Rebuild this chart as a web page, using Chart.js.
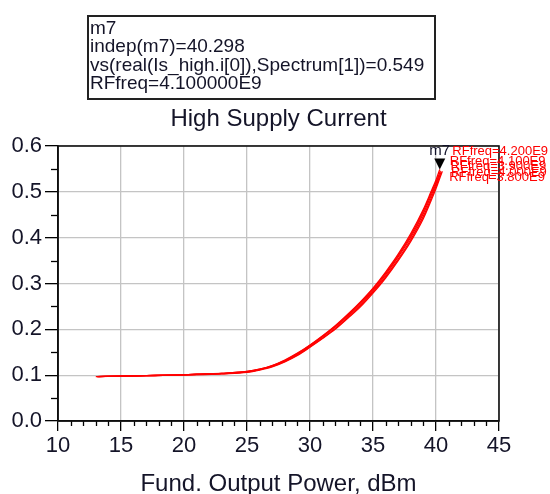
<!DOCTYPE html>
<html>
<head>
<meta charset="utf-8">
<script src="https://cdn.jsdelivr.net/npm/chart.js@4/dist/chart.umd.min.js"></script>
<style>
  html, body { margin: 0; padding: 0; background: #fff; }
  #wrap { width: 550px; height: 494px; position: relative; }
</style>
</head>
<body>
<div id="wrap"><canvas id="c"></canvas></div>
<script>
// ---- Data ----
const rfLabels = ['RFfreq=3.800E9', 'RFfreq=3.900E9', 'RFfreq=4.000E9', 'RFfreq=4.100E9', 'RFfreq=4.200E9'];

const pout_38 = [13.0, 15.0, 17.0, 19.0, 21.0, 23.0, 25.0, 26.0, 27.0, 28.0, 29.0, 30.0, 31.0, 32.0, 33.0, 34.0, 35.0, 36.0, 37.0, 38.0, 39.0, 39.6, 40.0, 40.25];
const ics_38  = [0.097, 0.098, 0.099, 0.100, 0.102, 0.104, 0.108, 0.113, 0.121, 0.132, 0.147, 0.165, 0.185, 0.207, 0.231, 0.258, 0.288, 0.322, 0.361, 0.405, 0.458, 0.496, 0.521, 0.537];

const pout_39 = [13.1, 15.0, 17.0, 19.0, 21.0, 23.0, 25.0, 26.0, 27.0, 28.0, 29.0, 30.0, 31.0, 32.0, 33.0, 34.0, 35.0, 36.0, 37.0, 38.0, 39.0, 39.6, 40.0, 40.35];
const ics_39  = [0.097, 0.098, 0.099, 0.100, 0.102, 0.104, 0.107, 0.112, 0.120, 0.131, 0.146, 0.164, 0.184, 0.205, 0.229, 0.255, 0.285, 0.319, 0.358, 0.401, 0.453, 0.491, 0.517, 0.546];

const pout_40 = [13.2, 15.0, 17.0, 19.0, 21.0, 23.0, 25.0, 26.0, 27.0, 28.0, 29.0, 30.0, 31.0, 32.0, 33.0, 34.0, 35.0, 36.0, 37.0, 38.0, 39.0, 39.6, 40.0, 40.4];
const ics_40  = [0.097, 0.098, 0.099, 0.100, 0.101, 0.103, 0.107, 0.112, 0.119, 0.130, 0.144, 0.162, 0.181, 0.202, 0.226, 0.252, 0.282, 0.315, 0.353, 0.396, 0.447, 0.485, 0.512, 0.543];

const pout_41 = [13.1, 15.0, 17.0, 19.0, 21.0, 23.0, 25.0, 26.0, 27.0, 28.0, 29.0, 30.0, 31.0, 32.0, 33.0, 34.0, 35.0, 36.0, 37.0, 38.0, 39.0, 39.6, 40.0, 40.298];
const ics_41  = [0.097, 0.098, 0.099, 0.100, 0.102, 0.104, 0.108, 0.113, 0.121, 0.133, 0.148, 0.166, 0.186, 0.208, 0.233, 0.260, 0.290, 0.325, 0.364, 0.409, 0.462, 0.500, 0.526, 0.549];

const pout_42 = [13.2, 15.0, 17.0, 19.0, 21.0, 23.0, 25.0, 26.0, 27.0, 28.0, 29.0, 30.0, 31.0, 32.0, 33.0, 34.0, 35.0, 36.0, 37.0, 38.0, 39.0, 39.6, 40.0, 40.5];
const ics_42  = [0.097, 0.098, 0.099, 0.100, 0.101, 0.103, 0.106, 0.111, 0.118, 0.129, 0.143, 0.161, 0.180, 0.200, 0.224, 0.249, 0.279, 0.312, 0.350, 0.392, 0.442, 0.480, 0.507, 0.545];

const xTickValues = [10, 15, 20, 25, 30, 35, 40, 45];
const yTickValues = [0.0, 0.1, 0.2, 0.3, 0.4, 0.5, 0.6];

const markerName = 'm7';
const markerX = 40.298;
const markerY = 0.549;
const markerLines = ['m7', 'indep(m7)=40.298', 'vs(real(Is_high.i[0]),Spectrum[1])=0.549', 'RFfreq=4.100000E9'];
const chartTitle = 'High Supply Current';
const xTitle = 'Fund. Output Power, dBm';

// ---- Build datasets ----
const seriesX = [pout_38, pout_39, pout_40, pout_41, pout_42];
const seriesY = [ics_38, ics_39, ics_40, ics_41, ics_42];
const datasets = seriesX.map((xs, i) => ({
  label: rfLabels[i],
  data: xs.map((x, j) => ({ x: x, y: seriesY[i][j] })),
  borderColor: '#ff0000',
  backgroundColor: '#ff0000',
  borderWidth: 1.3,
  pointRadius: 0,
  cubicInterpolationMode: 'monotone',
  fill: false
}));

const FONT = "'Liberation Sans', Arial, Helvetica, sans-serif";
const labelDy = [3, -4, 0, -8, -20];

const adsPlugin = {
  id: 'ads',
  beforeDatasetsDraw(chart) {
    const ctx = chart.ctx, a = chart.chartArea;
    const xs = chart.scales.x, ys = chart.scales.y;
    ctx.save();
    ctx.strokeStyle = '#000';
    ctx.lineWidth = 1.3;
    for (let v = 11; v < 45; v++) {
      if (v % 5 === 0) continue;
      const px = Math.round(xs.getPixelForValue(v)) + 0.5;
      ctx.beginPath(); ctx.moveTo(px, a.bottom); ctx.lineTo(px, a.bottom + 5); ctx.stroke();
    }
    for (let k = 0; k < 6; k++) {
      const v = 0.05 + k * 0.1;
      const py = Math.round(ys.getPixelForValue(v)) + 0.5;
      ctx.beginPath(); ctx.moveTo(a.left - 7, py); ctx.lineTo(a.left, py); ctx.stroke();
    }
    ctx.lineWidth = 1.6;
    ctx.strokeStyle = '#111';
    ctx.strokeRect(a.left, a.top, a.right - a.left, a.bottom - a.top);
    ctx.restore();
  },
  afterDatasetsDraw(chart) {
    const ctx = chart.ctx;
    const xs = chart.scales.x, ys = chart.scales.y;
    ctx.save();
    ctx.font = '13px ' + FONT;
    ctx.fillStyle = '#ff0000';
    ctx.textAlign = 'left';
    ctx.textBaseline = 'middle';
    chart.data.datasets.forEach((ds, i) => {
      const last = ds.data[ds.data.length - 1];
      const px = xs.getPixelForValue(last.x);
      const py = ys.getPixelForValue(last.y);
      ctx.fillText(ds.label, px + 10, py + labelDy[i]);
    });
    const mx = xs.getPixelForValue(markerX);
    const my = ys.getPixelForValue(markerY);
    ctx.fillStyle = '#000';
    ctx.beginPath();
    ctx.moveTo(mx, my);
    ctx.lineTo(mx - 5.5, my - 11);
    ctx.lineTo(mx + 5.5, my - 11);
    ctx.closePath();
    ctx.fill();
    ctx.font = '15px ' + FONT;
    ctx.fillStyle = '#101028';
    ctx.textAlign = 'center';
    ctx.textBaseline = 'alphabetic';
    ctx.fillText(markerName, mx, my - 14);
    ctx.restore();
  },
  afterDraw(chart) {
    const ctx = chart.ctx, a = chart.chartArea;
    ctx.save();
    ctx.fillStyle = '#141428';
    ctx.textBaseline = 'alphabetic';
    ctx.font = '24px ' + FONT;
    ctx.textAlign = 'center';
    ctx.fillText(chartTitle, (a.left + a.right) / 2, 126);
    ctx.fillText(xTitle, (a.left + a.right) / 2, 491);
    ctx.strokeStyle = '#222';
    ctx.lineWidth = 2;
    ctx.strokeRect(88, 16, 347, 83);
    ctx.font = '19px ' + FONT;
    ctx.textAlign = 'left';
    const base = [33.5, 52, 70.5, 89];
    markerLines.forEach((t, i) => ctx.fillText(t, 90, base[i]));
    ctx.restore();
  }
};

new Chart(document.getElementById('c'), {
  type: 'line',
  data: { datasets: datasets },
  options: {
    responsive: true,
    maintainAspectRatio: false,
    animation: false,
    layout: { padding: { top: 146, right: 51, bottom: 0, left: 0 } },
    plugins: { legend: { display: false }, tooltip: { enabled: false }, title: { display: false } },
    scales: {
      x: {
        type: 'linear',
        min: 10, max: 45,
        afterBuildTicks: (s) => { s.ticks = xTickValues.map(v => ({ value: v })); },
        afterFit: (s) => { s.height = 73; },
        ticks: { font: { size: 22, family: FONT }, color: '#141428', padding: 2, maxRotation: 0 },
        grid: { color: '#c4c4c4', lineWidth: 1.3, tickColor: '#000', tickLength: 10, tickWidth: 1.3 },
        border: { display: true, color: '#000', width: 1.6 }
      },
      y: {
        type: 'linear',
        min: 0, max: 0.6,
        afterBuildTicks: (s) => { s.ticks = yTickValues.map(v => ({ value: v })); },
        afterFit: (s) => { s.width = 58; },
        ticks: { font: { size: 22, family: FONT }, color: '#141428', padding: 3, callback: (v) => Number(v).toFixed(1) },
        grid: { color: '#c4c4c4', lineWidth: 1.3, tickColor: '#000', tickLength: 13, tickWidth: 1.3 },
        border: { display: true, color: '#000', width: 1.6 }
      }
    }
  },
  plugins: [adsPlugin]
});
</script>
</body>
</html>
